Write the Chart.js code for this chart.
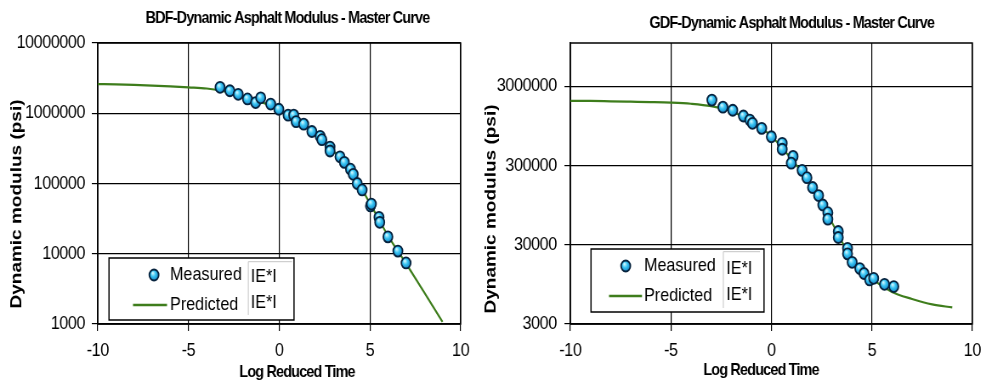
<!DOCTYPE html>
<html>
<head>
<meta charset="utf-8">
<title>Dynamic Asphalt Modulus - Master Curve</title>
<script src="https://cdn.jsdelivr.net/npm/chart.js@4.4.1/dist/chart.umd.min.js"></script>
<style>
  html, body { margin: 0; padding: 0; background: #fff; }
  #page { position: relative; width: 988px; height: 385px; overflow: hidden; background: #fff; }
  /* charts are drawn wide, then squeezed sideways like the report figure */
  #page canvas { position: absolute; top: 0; transform-origin: 0 0; transform: scaleX(0.85); }
</style>
</head>
<body>
<div id="page">
  <canvas id="bdfChart" width="560" height="385" style="left:0"></canvas>
  <canvas id="gdfChart" width="602" height="385" style="left:476px"></canvas>
</div>
<script>
const SQUASH = 0.85;
const FONT = "'Liberation Sans', Arial, sans-serif";
const GREEN = '#3e7d1c';

// shared x axis (log reduced time)
const timeTicks = [-10, -5, 0, 5, 10];
const predictedTime = [-10, -9, -8, -7, -6, -5, -4, -3, -2, -1, 0, 1, 2, 3, 4, 5, 6, 7, 8, 9];

// BDF mix
const bdfMeasuredTime = [-3.26, -2.72, -2.26, -1.75, -1.3, -1.02, -0.47, -0.02, 0.49, 0.8, 0.93, 1.35, 1.8, 2.26, 2.35,
  2.8, 2.8, 3.35, 3.59, 3.93, 4.08, 4.3, 4.57, 5.03, 5.08, 5.5, 5.54, 5.99, 6.54, 6.99];
const bdfMeasuredE = [2340000, 2090000, 1860000, 1600000, 1420000, 1660000, 1350000, 1140000, 940000, 940000, 760000, 700000, 550000, 470000, 420000,
  330000, 290000, 240000, 200000, 160000, 135000, 100000, 81000, 48000, 51000, 33000, 28000, 17400, 10900, 7400];
const bdfPredictedE = [2600000, 2570000, 2530000, 2480000, 2420000, 2340000, 2250000, 2050000, 1750000, 1450000,
  1120000, 800000, 510000, 290000, 145000, 52000, 18000, 7200, 2800, 1070];
const bdfTicks = [1000, 10000, 100000, 1000000, 10000000];

// GDF mix
const gdfMeasuredTime = [-2.96, -2.41, -1.92, -1.39, -1.07, -0.94, -0.48, 0, 0.54, 0.54, 1.08, 0.99, 1.53, 1.77, 2.05,
  2.35, 2.56, 2.81, 2.81, 3.33, 3.33, 3.79, 3.79, 4.02, 4.4, 4.61, 4.89, 5.09, 5.63, 6.09];
const gdfMeasuredE = [2000000, 1630000, 1490000, 1260000, 1120000, 1020000, 880000, 690000, 570000, 480000, 390000, 320000, 260000, 210000, 158000,
  125000, 95000, 76000, 63000, 44000, 37000, 27000, 23000, 18000, 15000, 13000, 10800, 11300, 9500, 8900];
const gdfPredictedE = [1960000, 1950000, 1930000, 1910000, 1890000, 1860000, 1800000, 1680000, 1450000, 1080000,
  700000, 360000, 165000, 58000, 20000, 11200, 7600, 6200, 5300, 4860];
const gdfTicks = [3000, 30000, 300000, 3000000];

function bubbleGradient(ctx, x, y) {
  const g = ctx.createRadialGradient(x - 1.5, y - 2, 0.5, x, y, 6.5);
  g.addColorStop(0, '#c8f4ff');
  g.addColorStop(0.4, '#38c4f2');
  g.addColorStop(1, '#0b6fb8');
  return g;
}

function markerFill(c) {
  if (c.type !== 'data' || !c.chart.chartArea) return '#20a8e8';
  const chart = c.chart;
  const x = chart.scales.x.getPixelForValue(c.raw.x);
  const y = chart.scales.y.getPixelForValue(c.raw.y);
  return bubbleGradient(chart.ctx, x, y);
}

// frame round the plot, titles and the boxed legend
const decorations = {
  id: 'decorations',
  beforeUpdate(chart) {
    chart.ctx.letterSpacing = '-0.5px';
  },
  beforeDraw(chart) {
    chart.ctx.letterSpacing = '-0.5px';
  },
  beforeDatasetsDraw(chart) {
    const a = chart.chartArea, ctx = chart.ctx;
    ctx.save();
    ctx.strokeStyle = '#000';
    ctx.lineWidth = 1.5;
    ctx.strokeRect(a.left, a.top, a.right - a.left, a.bottom - a.top);
    ctx.restore();
  },
  afterDraw(chart, args, o) {
    const ctx = chart.ctx;
    const X = px => (px - o.offset) / SQUASH;
    ctx.save();
    ctx.fillStyle = '#000';
    ctx.textAlign = 'center';
    ctx.textBaseline = 'middle';

    ctx.letterSpacing = '-1px';
    ctx.font = 'bold 17px ' + FONT;
    ctx.fillText(o.title, X(o.titleAt[0]), o.titleAt[1]);
    ctx.fillText('Log Reduced Time', X(o.xTitleAt[0]), o.xTitleAt[1]);

    ctx.save();
    ctx.letterSpacing = '0px';
    ctx.translate(X(o.yTitleAt[0]), o.yTitleAt[1]);
    ctx.rotate(-Math.PI / 2);
    ctx.font = 'bold 19px ' + FONT;
    ctx.fillText('Dynamic modulus (psi)', 0, 0);
    ctx.restore();

    // legend
    const L = o.legend;
    ctx.letterSpacing = '0px';
    ctx.fillStyle = '#fff';
    ctx.fillRect(X(L.box[0]), L.box[1], X(L.box[2]) - X(L.box[0]), L.box[3] - L.box[1]);
    ctx.strokeStyle = '#000';
    ctx.lineWidth = 1.5;
    ctx.strokeRect(X(L.box[0]), L.box[1], X(L.box[2]) - X(L.box[0]), L.box[3] - L.box[1]);

    ctx.strokeStyle = '#c4c4c4';
    ctx.lineWidth = 1;
    ctx.beginPath();
    ctx.moveTo(X(L.sepX), L.sepBottom);
    ctx.lineTo(X(L.sepX), L.sepTop);
    ctx.lineTo(X(L.sepRight), L.sepTop);
    ctx.stroke();

    const mx = X(L.markerX), my = L.rowY[0];
    ctx.beginPath();
    ctx.arc(mx, my, 5.5, 0, Math.PI * 2);
    ctx.fillStyle = bubbleGradient(ctx, mx, my);
    ctx.fill();
    ctx.strokeStyle = '#06223d';
    ctx.lineWidth = 1.8;
    ctx.stroke();

    ctx.strokeStyle = GREEN;
    ctx.lineWidth = 2.5;
    ctx.beginPath();
    ctx.moveTo(X(L.lineX[0]), L.rowY[1]);
    ctx.lineTo(X(L.lineX[1]), L.rowY[1]);
    ctx.stroke();

    ctx.fillStyle = '#000';
    ctx.font = '19px ' + FONT;
    ctx.textAlign = 'left';
    ctx.fillText('Measured', X(L.textX), L.rowY[0]);
    ctx.fillText('Predicted', X(L.textX), L.rowY[1]);
    ctx.fillText('IE*I', X(L.ieX), L.ieY[0]);
    ctx.fillText('IE*I', X(L.ieX), L.ieY[1]);
    ctx.restore();
  }
};

function buildChart(id, spec) {
  return new Chart(document.getElementById(id), {
    type: 'scatter',
    data: {
      datasets: [
        {
          label: 'Measured |E*|',
          data: spec.measuredTime.map((t, i) => ({ x: t, y: spec.measuredE[i] })),
          pointRadius: 5.5,
          pointBorderWidth: 1.8,
          pointBorderColor: '#06223d',
          pointBackgroundColor: markerFill
        },
        {
          type: 'line',
          label: 'Predicted |E*|',
          data: predictedTime.map((t, i) => ({ x: t, y: spec.predictedE[i] })),
          borderColor: GREEN,
          borderWidth: 2.2,
          pointRadius: 0,
          cubicInterpolationMode: 'monotone',
          fill: false
        }
      ]
    },
    options: {
      responsive: false,
      animation: false,
      events: [],
      layout: { padding: { top: 43, right: spec.padRight, left: 0, bottom: 0 } },
      plugins: {
        legend: { display: false },
        tooltip: { enabled: false },
        decorations: spec.deco
      },
      scales: {
        x: {
          type: 'linear',
          min: -10,
          max: 10,
          afterBuildTicks: s => { s.ticks = timeTicks.map(v => ({ value: v })); },
          afterFit: s => { s.height = 61; },
          grid: { color: '#000', lineWidth: 1.2, tickLength: 7 },
          border: { color: '#000', width: 1.5 },
          ticks: { color: '#000', font: { family: FONT, size: 19 }, padding: 8, maxRotation: 0, autoSkip: false }
        },
        y: {
          type: 'logarithmic',
          min: spec.yMin,
          max: spec.yMax,
          afterBuildTicks: s => { s.ticks = spec.yTicks.map(v => ({ value: v })); },
          afterFit: s => { s.width = spec.axisWidth; },
          grid: { color: '#000', lineWidth: 1.2, tickLength: 7 },
          border: { color: '#000', width: 1.5 },
          ticks: {
            color: '#000',
            font: { family: FONT, size: 19 },
            padding: spec.labelPad,
            autoSkip: false,
            callback: v => String(v)
          }
        }
      }
    },
    plugins: [decorations]
  });
}

buildChart('bdfChart', {
  measuredTime: bdfMeasuredTime,
  measuredE: bdfMeasuredE,
  predictedE: bdfPredictedE,
  yTicks: bdfTicks,
  yMin: 1000,
  yMax: 10000000,
  axisWidth: 115,
  labelPad: 8,
  padRight: 14,
  deco: {
    offset: 0,
    title: 'BDF-Dynamic Asphalt Modulus - Master Curve',
    titleAt: [287.5, 18],
    xTitleAt: [297, 372.7],
    yTitleAt: [16.5, 204],
    legend: {
      box: [109, 258, 294, 320], markerX: 154, lineX: [133, 167], textX: 170, rowY: [275, 305],
      sepX: 248.3, sepTop: 261.7, sepBottom: 315, sepRight: 292, ieX: 250.7, ieY: [277, 303]
    }
  }
});

buildChart('gdfChart', {
  measuredTime: gdfMeasuredTime,
  measuredE: gdfMeasuredE,
  predictedE: gdfPredictedE,
  yTicks: gdfTicks,
  yMin: 3000,
  yMax: 10500000,
  axisWidth: 111,
  labelPad: 9,
  padRight: 14,
  deco: {
    offset: 476,
    title: 'GDF-Dynamic Asphalt Modulus - Master Curve',
    titleAt: [791.7, 23],
    xTitleAt: [761, 370.7],
    yTitleAt: [491, 209],
    legend: {
      box: [591, 249, 764, 312], markerX: 625.7, lineX: [609, 642], textX: 644, rowY: [266, 296],
      sepX: 723.3, sepTop: 251.7, sepBottom: 308, sepRight: 760, ieX: 726.3, ieY: [269, 295]
    }
  }
});
</script>
</body>
</html>
